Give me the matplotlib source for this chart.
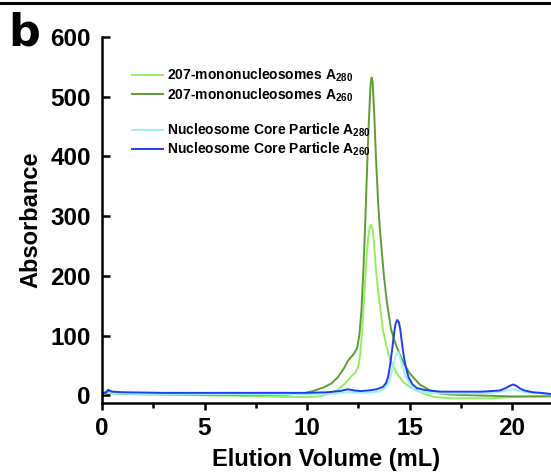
import matplotlib
matplotlib.use("Agg")
import matplotlib.pyplot as plt
from matplotlib.lines import Line2D

plt.rcParams['font.family'] = ['Liberation Sans', 'DejaVu Sans']
plt.rcParams['font.weight'] = 'bold'
plt.rcParams['mathtext.fontset'] = 'custom'
plt.rcParams['mathtext.rm'] = 'Liberation Sans'
plt.rcParams['mathtext.default'] = 'regular'

# 207-mononucleosomes A260
mono260_x = [0, 0.25, 0.4, 1, 3, 5, 7, 9, 9.8, 10.3, 10.8, 11.2, 11.5, 11.8, 12.0, 12.15, 12.3, 12.45,
             12.55, 12.65, 12.75, 12.85, 12.95, 13.03, 13.1, 13.15, 13.2, 13.28, 13.36, 13.46, 13.55,
             13.64, 13.75, 13.9, 14.1, 14.3, 14.5, 14.75, 15.0, 15.5, 16.0, 16.5, 17, 18, 19, 20, 21, 21.9]
mono260_y = [2, 7, 4, 2, 2, 1, 1, 1, 3, 7, 13, 20, 30, 45, 58, 64, 70, 80,
             100, 140, 210, 300, 400, 470, 520, 532, 525, 470, 400, 328, 280,
             244, 200, 155, 110, 88, 70, 52, 37, 18, 8, 3, 1, 0, -1, -2, -2, -2]

# 207-mononucleosomes A280
mono280_x = [0, 0.3, 0.5, 2, 5, 8, 9, 10, 10.6, 11.0, 11.45, 11.8, 12.0, 12.2, 12.35, 12.5, 12.6,
             12.68, 12.76, 12.83, 12.9, 12.98, 13.05, 13.12, 13.2, 13.28, 13.35, 13.45, 13.56, 13.7,
             13.89, 14.05, 14.37, 14.7, 15.0, 15.35, 15.7, 16.2, 17, 18, 19, 19.5, 20, 21, 21.9]
mono280_y = [2, 6, 3, 1, 0, -2, -3, -3, -2, 2, 8, 18, 25, 33, 38, 48, 70,
             104, 150, 188, 230, 262, 280, 286, 278, 250, 215, 180, 150, 110,
             80, 60, 37, 22, 14, 8, 3, -3, -5, -5, -5, -4, -3, -2, -1]

# Nucleosome Core Particle A280
ncp280_x = [0, 0.3, 0.5, 2, 5, 8, 10, 11.5, 12.0, 12.5, 13.0, 13.5, 13.8, 14.0, 14.1, 14.2, 14.3,
            14.38, 14.45, 14.55, 14.65, 14.8, 15.0, 15.2, 15.5, 16, 17, 18, 19, 19.5, 19.8, 20.05,
            20.3, 20.6, 21, 21.5, 21.9]
ncp280_y = [2, 4, 3, 2, 2, 2, 2, 3, 5, 4, 4, 6, 12, 22, 35, 50, 63,
            70, 72, 62, 50, 32, 20, 10, 6, 4, 3, 3, 4, 6, 8, 10,
            8, 5, 4, 3, 2]

# Nucleosome Core Particle A260
ncp260_x = [0, 0.2, 0.3, 0.5, 1, 3, 5, 8, 10, 11, 11.6, 12.0, 12.3, 12.6, 13.0, 13.4, 13.7, 13.85,
            13.95, 14.05, 14.15, 14.25, 14.32, 14.4, 14.48, 14.55, 14.62, 14.7, 14.8, 14.95, 15.15,
            15.35, 15.7, 16.5, 17.5, 18.5, 19.0, 19.4, 19.7, 19.9, 20.05, 20.2, 20.4, 20.6, 21.0,
            21.4, 21.9]
ncp260_y = [3, 4, 9, 6, 5, 4, 4, 4, 4, 5, 7, 10, 8, 7, 8, 10, 14, 20,
            30, 50, 76, 105, 120, 126, 122, 110, 90, 70, 50, 30, 18,
            12, 9, 6, 6, 6, 7, 8, 12, 16, 18, 16, 11, 8, 5,
            4, 2]

labels = [r'207-mononucleosomes A$_{280}$', r'207-mononucleosomes A$_{260}$',
          r'Nucleosome Core Particle A$_{280}$', r'Nucleosome Core Particle A$_{260}$']
colors = ['#93EE62', '#5E9F33', '#9DF3F3', '#1F3DF5']

xticks = [0, 5, 10, 15, 20]
yticks = [0, 100, 200, 300, 400, 500, 600]

W, H = 551, 473
fig = plt.figure(figsize=(W / 100, H / 100), dpi=100)
ax = fig.add_axes([102 / W, 1 - 403 / H, 1 - 102 / W, (403 - 37) / H])

series = [(mono280_x, mono280_y), (mono260_x, mono260_y), (ncp280_x, ncp280_y), (ncp260_x, ncp260_y)]
handles = []
for (xs, ys), c, lab in zip(series, colors, labels):
    h, = ax.plot(xs, ys, color=c, lw=1.4, label=lab)
    handles.append(h)

ax.set_xlim(0, 21.9)
ax.set_ylim(-13, 600)
ax.set_xticks(xticks)
ax.set_yticks(yticks)
ax.set_xticks([2.5, 7.5, 12.5, 17.5], minor=True)
for s in ['top', 'right']:
    ax.spines[s].set_visible(False)
for s in ['left', 'bottom']:
    ax.spines[s].set_linewidth(1.8)
ax.tick_params(axis='y', direction='in', length=6, width=1.8, labelsize=17.5, pad=8)
ax.tick_params(axis='x', which='major', direction='out', length=5, width=1.8, labelsize=17.5, pad=5)
ax.tick_params(axis='x', which='minor', direction='out', length=3.5, width=1.8)
for t in ax.get_xticklabels() + ax.get_yticklabels():
    t.set_fontweight('bold')

ax.set_xlabel('Elution Volume (mL)', fontsize=17, fontweight='bold', labelpad=6)
ax.set_ylabel('Absorbance', fontsize=17, fontweight='bold', labelpad=6)

blank = Line2D([], [], color='none')
leg = ax.legend([handles[0], handles[1], blank, handles[2], handles[3]],
                [labels[0], labels[1], ' ', labels[2], labels[3]],
                loc='upper left', bbox_to_anchor=(132 / W, 1 - 67 / H),
                bbox_transform=fig.transFigure, frameon=False,
                prop={'size': 10, 'weight': 'bold'}, handlelength=2.2,
                handletextpad=0.3, borderpad=0, borderaxespad=0, labelspacing=0.14)

fig.add_artist(Line2D([0, 1], [1 - 3 / H, 1 - 3 / H], transform=fig.transFigure, color='k', lw=2.2))
fig.text(8 / W, 1 - 45 / H, 'b', fontsize=32, fontweight='bold', va='baseline', ha='left',
         family='DejaVu Sans')

fig.savefig('out.png', dpi=100)
